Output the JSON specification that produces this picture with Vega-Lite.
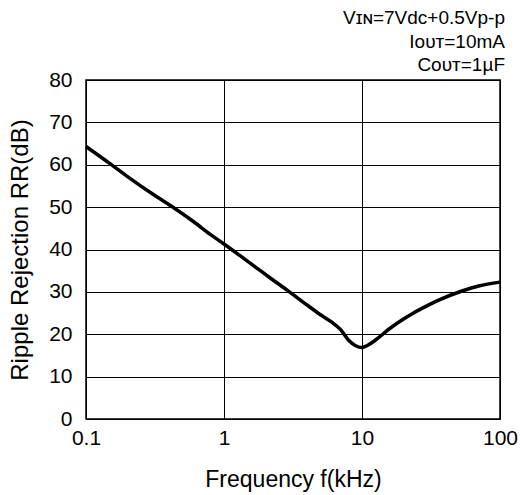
{
  "$schema": "https://vega.github.io/schema/vega-lite/v6.json",
  "autosize": "none",
  "padding": {"left": 86, "top": 80, "right": 20, "bottom": 76},
  "width": 414,
  "height": 339,
  "background": "white",
  "title": {
    "text": ["Vɪɴ=7Vdc+0.5Vp-p", "Iᴏᴜᴛ=10mA", "Cᴏᴜᴛ=1µF"],
    "anchor": "end",
    "frame": "group",
    "font": "Liberation Sans",
    "fontSize": 19,
    "fontWeight": "normal",
    "lineHeight": 23.5,
    "color": "black",
    "offset": -6,
    "dx": 5
  },
  "config": {
    "font": "Liberation Sans",
    "view": {"stroke": "black", "strokeWidth": 1.5},
    "axis": {
      "labelFont": "Liberation Sans",
      "titleFont": "Liberation Sans",
      "labelFontSize": 21,
      "titleFontSize": 23,
      "titleFontWeight": "normal",
      "labelColor": "black",
      "titleColor": "black",
      "gridColor": "black",
      "gridOpacity": 1,
      "gridWidth": 1,
      "domain": false,
      "ticks": false
    }
  },
  "data": {
    "values": [
      {"f": 0.1, "rr": 64.3},
      {"f": 0.15, "rr": 60.2},
      {"f": 0.2, "rr": 57.2},
      {"f": 0.3, "rr": 53.2},
      {"f": 0.435, "rr": 49.8},
      {"f": 0.6, "rr": 46.6},
      {"f": 0.8, "rr": 43.5},
      {"f": 1.0, "rr": 41.3},
      {"f": 1.3, "rr": 38.6},
      {"f": 1.7, "rr": 35.8},
      {"f": 2.2, "rr": 33.1},
      {"f": 2.9, "rr": 30.3},
      {"f": 4.0, "rr": 26.9},
      {"f": 5.0, "rr": 24.6},
      {"f": 6.0, "rr": 22.9},
      {"f": 7.0, "rr": 21.1},
      {"f": 8.0, "rr": 18.6},
      {"f": 9.0, "rr": 17.3},
      {"f": 10, "rr": 16.9},
      {"f": 11, "rr": 17.4},
      {"f": 12.6, "rr": 18.7},
      {"f": 15.8, "rr": 21.3},
      {"f": 20, "rr": 23.6},
      {"f": 23.3, "rr": 24.9},
      {"f": 30, "rr": 26.8},
      {"f": 36.3, "rr": 28.1},
      {"f": 53, "rr": 30.2},
      {"f": 70, "rr": 31.4},
      {"f": 100, "rr": 32.3}
    ]
  },
  "mark": {"type": "line", "color": "black", "strokeWidth": 3.5, "interpolate": "monotone"},
  "encoding": {
    "x": {
      "field": "f",
      "type": "quantitative",
      "scale": {"type": "log", "domain": [0.1, 100], "nice": false},
      "axis": {
        "values": [0.1, 1, 10, 100],
        "labelExpr": "datum.value + ''",
        "labelPadding": 8,
        "title": "Frequency f(kHz)",
        "titlePadding": 20,
        "labelFlush": false
      }
    },
    "y": {
      "field": "rr",
      "type": "quantitative",
      "scale": {"domain": [0, 80], "nice": false},
      "axis": {
        "values": [0, 10, 20, 30, 40, 50, 60, 70, 80],
        "labelPadding": 14,
        "title": "Ripple Rejection RR(dB)",
        "titleFontSize": 24,
        "titlePadding": 16
      }
    }
  }
}
